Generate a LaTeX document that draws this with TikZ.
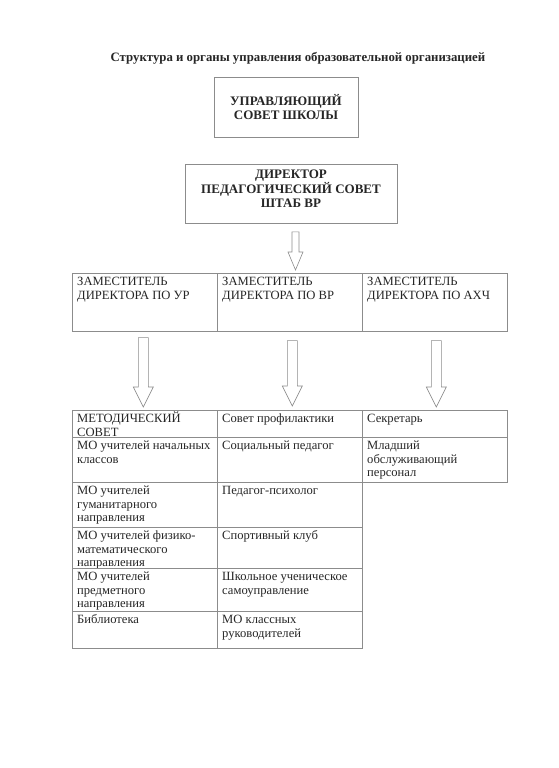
\documentclass[tikz,border=0pt]{standalone}
\usepackage{fontspec}
\setmainfont{Liberation Serif}
\usetikzlibrary{calc,positioning}
\definecolor{orgline}{gray}{0.55}
\definecolor{orgink}{gray}{0.15}
\tikzset{
  orgbox/.style ={rectangle, draw=orgline, line width=0.6pt, inner sep=0pt},
  orghead/.style={font=\fontsize{13}{14.5}\selectfont\bfseries, text=orgink,
                  align=center, inner sep=0pt},
  orgcell/.style={orgbox, anchor=north west, minimum width=145},
  orgtxt/.style ={anchor=north west, inner xsep=5pt, inner ysep=0pt, align=left,
                  font=\fontsize{12.6}{13.8}\selectfont, text=orgink},
  orgarrow/.style={draw=orgline, line width=0.6pt, fill=white, line join=miter},
}
% first line of a cell sits at a fixed depth
\newcommand{\celltop}{\rule{0pt}{12pt}}
% hollow block arrow: top, tip, half shaft, half head, head length
\newcommand{\blockdown}[5]{%
  \draw[orgarrow] let \p1=(#1), \p2=(#2) in
    (\x1-#3pt,\y1) -- (\x1+#3pt,\y1) -- (\x1+#3pt,\y2+#5pt) -- (\x1+#4pt,\y2+#5pt)
    -- (\x1,\y2) -- (\x1-#4pt,\y2+#5pt) -- (\x1-#3pt,\y2+#5pt) -- cycle;}

\begin{document}
\begin{tikzpicture}[x=1pt, y=-1pt]
  \fill[white] (0,0) rectangle (558,768);
  \useasboundingbox (0,0) rectangle (558,768);
  \node[font=\fontsize{12.8}{14}\selectfont\bfseries, text=orgink] (title) at (298,58)
    {Структура и органы управления образовательной организацией};
  % top boxes
  \node[orgbox, orghead, minimum width=144, minimum height=60] (usovet) at (286,107)
    {УПРАВЛЯЮЩИЙ\\СОВЕТ ШКОЛЫ};
  \node[orgbox, minimum width=212, minimum height=59] (dir) at (291,194) {};
  \node[orghead, below=5.5pt of dir.north] (dirtxt)
    {ДИРЕКТОР\\ПЕДАГОГИЧЕСКИЙ СОВЕТ\\ШТАБ ВР};
  % deputies
  \node[orgcell, minimum height=58, label={[orgtxt]north west:\celltop ЗАМЕСТИТЕЛЬ\\ДИРЕКТОРА ПО УР}] (zur) at (72,273) {};
  \node[orgcell, minimum height=58, label={[orgtxt]north west:\celltop ЗАМЕСТИТЕЛЬ\\ДИРЕКТОРА ПО ВР}] (zvr) at (217,273) {};
  \node[orgcell, minimum height=58, label={[orgtxt]north west:\celltop ЗАМЕСТИТЕЛЬ\\ДИРЕКТОРА ПО АХЧ}] (zahch) at (362,273) {};
  % table
  \foreach \r/\y/\h/\ta/\tb in {
      1/410/27/{МЕТОДИЧЕСКИЙ\\СОВЕТ}/{Совет профилактики},
      2/437/45/{МО учителей начальных\\классов}/{Социальный педагог},
      3/482/45/{МО учителей\\гуманитарного\\направления}/{Педагог-психолог},
      4/527/41/{МО учителей физико-\\математического\\направления}/{Спортивный клуб},
      5/568/43/{МО учителей\\предметного\\направления}/{Школьное ученическое\\самоуправление},
      6/611/37/{Библиотека}/{МО классных\\руководителей}}{
    \node[orgcell, minimum height=\h, label={[orgtxt]north west:\celltop\ta}] (m\r) at (72,\y) {};
    \node[orgcell, minimum height=\h, label={[orgtxt]north west:\celltop\tb}] (v\r) at (217,\y) {};
  }
  \node[orgcell, minimum height=27, label={[orgtxt]north west:\celltop Секретарь}] (a1) at (362,410) {};
  \node[orgcell, minimum height=45, label={[orgtxt]north west:\celltop Младший\\обслуживающий\\персонал}] (a2) at (362,437) {};
  % arrows
  \coordinate (d1) at ($(dir.south)+(4.5,8)$);
  \coordinate (d2) at ($(zvr.north)+(6,-3)$);
  \blockdown{d1}{d2}{3.5}{7.5}{18}
  \coordinate (u1) at ($(zur.south)+(-1.5,6)$);
  \coordinate (u2) at ($(m1.north)+(-1.5,-3)$);
  \blockdown{u1}{u2}{5}{10}{20}
  \coordinate (w1) at ($(zvr.south)+(2.5,9)$);
  \coordinate (w2) at ($(v1.north)+(2.5,-4)$);
  \blockdown{w1}{w2}{5}{10}{20}
  \coordinate (h1) at ($(zahch.south)+(1.5,9)$);
  \coordinate (h2) at ($(a1.north)+(1.5,-3)$);
  \blockdown{h1}{h2}{5}{10}{20}
\end{tikzpicture}
\end{document}
